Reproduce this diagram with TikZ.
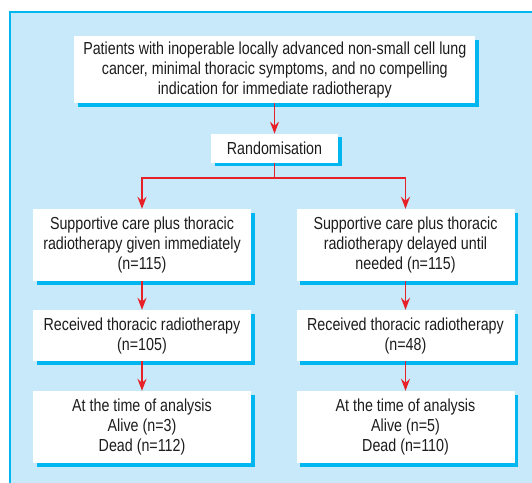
\documentclass[tikz,border=0pt]{standalone}
\usepackage{fontspec}
\setmainfont{Liberation Sans}[FakeStretch=0.82]
\usetikzlibrary{arrows.meta,shadows}
\definecolor{bgblue}{RGB}{200,233,249}
\definecolor{cyanline}{RGB}{0,182,240}
\definecolor{arrred}{RGB}{232,32,40}
\definecolor{txt}{RGB}{30,28,28}
\begin{document}
\begin{tikzpicture}[x=1pt,y=-1pt,
  box/.style={fill=white, align=center, inner sep=0pt, text=txt,
    font=\fontsize{17.4}{20}\selectfont,
    drop shadow={shadow xshift=3.5pt, shadow yshift=-3.5pt, fill=cyanline, opacity=1}},
  wire/.style={draw=arrred, line width=1.7pt},
  link/.style={wire, -{Stealth[length=12pt,width=9pt,inset=4pt]}}]
\useasboundingbox (0,0) rectangle (532,482);
\clip (0,0) rectangle (532,482);
\fill[bgblue] (10,12) rectangle (545,495);
\draw[cyanline, line width=1.5pt] (10,495) -- (10,12) -- (545,12);

\node[box, minimum width=401pt, minimum height=67pt] (top) at (274.8,69.7)
  {Patients with inoperable locally advanced non-small cell lung\\cancer, minimal thoracic symptoms, and no compelling\\indication for immediate radiotherapy};
\node[box, minimum width=127pt, minimum height=29pt] (rand) at (274.5,148.4) {Randomisation};

\node[box, minimum width=218pt, minimum height=72pt] (l2) at (142,245)
  {Supportive care plus thoracic\\radiotherapy given immediately\\(n=115)};
\node[box, minimum width=218pt, minimum height=72pt] (r2) at (405.5,245)
  {Supportive care plus thoracic\\radiotherapy delayed until\\needed (n=115)};
\node[box, minimum width=218pt, minimum height=51pt] (l3) at (142,335.5)
  {Received thoracic radiotherapy\\(n=105)};
\node[box, minimum width=218pt, minimum height=51pt] (r3) at (405.5,335.5)
  {Received thoracic radiotherapy\\(n=48)};
\node[box, minimum width=218pt, minimum height=72pt] (l4) at (142,427)
  {At the time of analysis\\Alive (n=3)\\Dead (n=112)};
\node[box, minimum width=218pt, minimum height=72pt] (r4) at (405.5,427)
  {At the time of analysis\\Alive (n=5)\\Dead (n=110)};

\coordinate (br) at (274.5,178.3);
\draw[link] (top.south -| rand.north) -- (rand.north);
\draw[wire] (rand.south) -- (br);
\draw[link] (br) -| (l2.north);
\draw[link] (br) -| (r2.north);
\draw[link] (l2) -- (l3);
\draw[link] (r2) -- (r3);
\draw[link] (l3) -- (l4);
\draw[link] (r3) -- (r4);
\end{tikzpicture}
\end{document}
